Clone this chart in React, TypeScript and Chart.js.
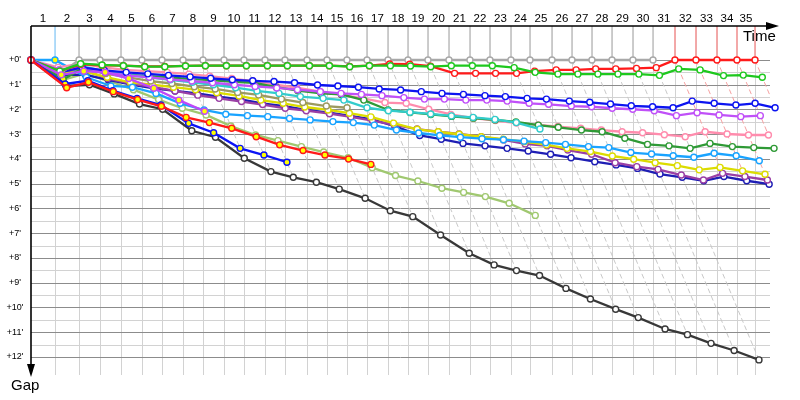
import React, { useEffect, useRef } from 'react';
import { Chart, registerables } from 'chart.js';
Chart.register(...registerables);

// Lap numbers shown on the top (time) axis
const lapLabels = ['1','2','3','4','5','6','7','8','9','10','11','12','13','14','15','16','17','18','19','20','21','22','23','24','25','26','27','28','29','30','31','32','33','34','35'];
// Leader's cumulative race time at the end of each lap (minutes), index 0 = start
const leaderLapTimes = [0, 2.31, 4.62, 6.63, 8.65, 10.67, 12.6, 14.62, 16.54, 18.56, 20.48, 22.5, 24.42, 26.54, 28.46, 30.38, 32.31, 34.33, 36.25, 38.17, 40.19, 42.21, 44.13, 46.15, 47.98, 50.1, 52.02, 53.94, 55.87, 57.88, 59.81, 61.92, 63.94, 65.96, 67.88, 69.62];
// Gap axis labels (minutes)
const gapTicks = [0,1,2,3,4,5,6,7,8,9,10,11,12];

// Gap to leader (minutes) at the end of each lap, index 0 = start
const gapGray = [0, 0.54, 0,0,0,0,0,0,0,0,0,0,0,0,0,0,0,0,0,0,0,0,0,0,0,0,0,0,0,0,0];
const gapLightBlue = [0, 0, 0.7, 1.05, 1.1, 1.35, 1.75, 2.02, 2.19, 2.25, 2.29, 2.36, 2.42, 2.49, 2.53, 2.63, 2.83, 2.95, 3.05, 3.12, 3.18, 3.22, 3.28, 3.34, 3.41, 3.5, 3.54, 3.74, 3.8, 3.87, 3.93, 3.77, 3.87, 4.07];
const gapGreen = [0, 0.45, 0.15, 0.2, 0.23, 0.27, 0.27, 0.24, 0.23, 0.23, 0.23, 0.23, 0.23, 0.23, 0.23, 0.27, 0.23, 0.23, 0.24, 0.27, 0.23, 0.23, 0.23, 0.31, 0.5, 0.57, 0.57, 0.57, 0.57, 0.57, 0.62, 0.36, 0.4, 0.63, 0.61, 0.7];
const gapRed = [0, 0.45, 0.18, 0.22, 0.23, 0.26, 0.26, 0.24, 0.23, 0.23, 0.23, 0.23, 0.23, 0.23, 0.23, 0.26, 0.23, 0.16, 0.17, 0.25, 0.54, 0.54, 0.54, 0.54, 0.45, 0.4, 0.4, 0.36, 0.36, 0.34, 0.31, 0, 0, 0, 0, 0];
const gapBlue = [0, 0.5, 0.3, 0.42, 0.5, 0.56, 0.62, 0.68, 0.74, 0.8, 0.84, 0.87, 0.92, 1.01, 1.05, 1.1, 1.17, 1.21, 1.28, 1.35, 1.39, 1.44, 1.48, 1.55, 1.58, 1.66, 1.71, 1.78, 1.85, 1.89, 1.93, 1.66, 1.75, 1.82, 1.75, 1.93];
const gapViolet = [0, 0.4, 0.3, 0.5, 0.62, 0.7, 0.78, 0.85, 0.92, 1.0, 1.07, 1.13, 1.2, 1.28, 1.35, 1.39, 1.44, 1.52, 1.58, 1.58, 1.62, 1.62, 1.66, 1.75, 1.79, 1.86, 1.89, 1.95, 1.99, 2.05, 2.25, 2.13, 2.22, 2.29, 2.25];
const gapPink = [0, 0.3, 0.15, 0.3, 0.4, 0.45, 0.5, 0.57, 0.65, 0.75, 0.85, 1.0, 1.12, 1.28, 1.41, 1.55, 1.72, 1.75, 1.99, 2.2, 2.35, 2.45, 2.55, 2.62, 2.69, 2.76, 2.83, 2.9, 2.94, 3.02, 3.1, 2.9, 2.99, 3.03, 3.03];
const gapDarkGreen = [0, 0.78, 0.34, 0.5, 0.6, 0.65, 0.7, 0.77, 0.81, 0.88, 0.92, 1.1, 1.24, 1.35, 1.39, 1.62, 2.02, 2.12, 2.2, 2.28, 2.35, 2.42, 2.5, 2.63, 2.72, 2.83, 2.9, 3.16, 3.41, 3.47, 3.57, 3.37, 3.5, 3.54, 3.57];
const gapTeal = [0, 0.4, 0.25, 0.45, 0.6, 0.7, 0.8, 0.9, 1.0, 1.12, 1.25, 1.35, 1.48, 1.55, 1.62, 1.93, 2.05, 2.11, 2.18, 2.26, 2.32, 2.4, 2.53, 2.79];
const gapOlive = [0, 0.45, 0.35, 0.55, 0.7, 0.85, 0.95, 1.08, 1.17, 1.31, 1.41, 1.58, 1.72, 1.86, 1.93];
const gapYellow = [0, 0.55, 0.45, 0.7, 0.9, 1.0, 1.1, 1.2, 1.32, 1.45, 1.62, 1.75, 1.9, 2.02, 2.15, 2.3, 2.55, 2.8, 2.9, 3.0, 3.1, 3.2, 3.3, 3.43, 3.57, 3.7, 3.88, 4.01, 4.15, 4.27, 4.44, 4.34, 4.48, 4.62];
const gapPurple = [0, 0.5, 0.4, 0.75, 0.95, 1.1, 1.25, 1.42, 1.55, 1.68, 1.8, 1.95, 2.05, 2.17, 2.3, 2.45, 2.62, 2.79, 2.9, 2.99, 3.1, 3.23, 3.39, 3.47, 3.64, 3.81, 4.15, 4.31, 4.42, 4.65, 4.85, 4.58, 4.71, 4.85];
const gapNavy = [0, 0.6, 0.6, 0.8, 1.0, 1.15, 1.25, 1.35, 1.48, 1.59, 1.75, 1.86, 2.02, 2.13, 2.26, 2.4, 2.67, 3.05, 3.2, 3.37, 3.47, 3.57, 3.68, 3.81, 3.95, 4.11, 4.24, 4.38, 4.61, 4.74, 4.88, 4.71, 4.88, 5.02];
const gapLightGreen = [0, 0.8, 0.55, 0.85, 1.2, 1.6, 1.95, 2.22, 2.67, 3.03, 3.26, 3.5, 3.72, 3.95, 4.35, 4.67, 4.89, 5.18, 5.35, 5.52, 5.79, 6.28];
const gapBlack = [0, 1.05, 1.0, 1.37, 1.78, 1.99, 2.86, 3.12, 3.97, 4.51, 4.74, 4.94, 5.22, 5.59, 6.09, 6.33, 7.07, 7.81, 8.28, 8.51, 8.71, 9.23, 9.66, 10.07, 10.41, 10.87, 11.1, 11.45, 11.74, 12.12];
const gapRedY = [0, 1.12, 0.9, 1.28, 1.6, 1.87, 2.32, 2.53, 2.76, 3.1, 3.43, 3.66, 3.84, 4.0, 4.22];
const gapBlueY = [0, 0.97, 0.84, 1.24, 1.55, 1.82, 2.56, 2.94, 3.57, 3.84, 4.13];
const gapVioletY = [0, 0.6, 0.45, 0.5, 0.75, 1.14, 1.62, 2.07];

type Series = { gaps: number[]; color: string; yellowFrom?: number; yellowTo?: number; lapLine?: string };

// first = drawn on top
const series: Series[] = [
  { gaps: gapRedY, color: '#ff1a1a', yellowFrom: 1, yellowTo: 99 },
  { gaps: gapBlueY, color: '#0c14f5', yellowFrom: 1, yellowTo: 99 },
  { gaps: gapVioletY, color: '#c048f8', yellowFrom: 1, yellowTo: 99 },
  { gaps: gapGreen, color: '#1ec81e' },
  { gaps: gapRed, color: '#ff1a1a', lapLine: '#f5a0a0' },
  { gaps: gapGray, color: '#a8a8a8', lapLine: '#c8c8c8' },
  { gaps: gapBlue, color: '#0c14f0' },
  { gaps: gapViolet, color: '#c050f8' },
  { gaps: gapTeal, color: '#33cccc' },
  { gaps: gapDarkGreen, color: '#2f9a36', yellowFrom: 1, yellowTo: 10 },
  { gaps: gapPink, color: '#ff8cad' },
  { gaps: gapOlive, color: '#9c9a60' },
  { gaps: gapLightBlue, color: '#19a3ff', yellowFrom: 1, yellowTo: 1, lapLine: '#a8d8fa' },
  { gaps: gapYellow, color: '#dcdc00' },
  { gaps: gapPurple, color: '#9a3fa5' },
  { gaps: gapNavy, color: '#1e1eb4' },
  { gaps: gapLightGreen, color: '#a0c870' },
  { gaps: gapBlack, color: '#383838' },
];

const X_MAX = 71.06;
const Y_MIN = -1.374;
const Y_MAX = 12.73;
const FONT = '"Liberation Sans", Arial, sans-serif';

export default function App() {
  const ref = useRef<HTMLCanvasElement | null>(null);
  useEffect(() => {
    const canvas = ref.current;
    if (!canvas) return;

    const carDatasets = series.map((s) => ({
      type: 'line' as const,
      data: s.gaps.map((g, k) => ({ x: leaderLapTimes[k] + g, y: g })),
      borderColor: s.color,
      borderWidth: 2.3,
      pointRadius: 3,
      pointBorderWidth: 1.4,
      pointBorderColor: s.color,
      pointBackgroundColor: s.gaps.map((_, k) =>
        s.yellowFrom !== undefined && k >= s.yellowFrom && k <= (s.yellowTo ?? 99) ? '#ffff00' : '#ffffff'),
      tension: 0,
      clip: false as any,
      order: 1,
    }));

    // lap lines: from the leader at each lap to the last car on that lap
    const lapDatasets: any[] = [];
    for (let k = 1; k < leaderLapTimes.length; k++) {
      let maxG = 0;
      let leaderColor = '#c8c8c8';
      let best = Infinity;
      series.forEach((s) => {
        if (k < s.gaps.length) {
          maxG = Math.max(maxG, s.gaps[k]);
          if (s.lapLine && s.gaps[k] < best) { best = s.gaps[k]; leaderColor = s.lapLine; }
        }
      });
      const t = leaderLapTimes[k];
      lapDatasets.push({
        type: 'line',
        data: [{ x: t, y: Y_MIN }, { x: t, y: 0 }, { x: t + maxG, y: maxG }],
        borderColor: leaderColor,
        borderWidth: 1,
        pointRadius: 0,
        tension: 0,
        order: 10,
        segment: { borderDash: (ctx: any) => (ctx.p0DataIndex === 0 ? [] : [5, 3]) },
      });
    }

    const gridPlugin = {
      id: 'gapGrid',
      beforeDatasetsDraw(chart: any) {
        const { ctx, chartArea: a, scales } = chart;
        const xs = scales.x, ys = scales.y;
        ctx.save();
        ctx.lineWidth = 1;
        ctx.strokeStyle = '#d2d2d2';
        for (let k = 1; k < leaderLapTimes.length; k++) {
          const px = Math.round(xs.getPixelForValue(leaderLapTimes[k])) + 0.5;
          ctx.beginPath(); ctx.moveTo(px, a.top); ctx.lineTo(px, a.bottom); ctx.stroke();
        }
        for (let v = 0; v <= 12; v += 0.5) {
          const py = Math.round(ys.getPixelForValue(v)) + 0.5;
          ctx.strokeStyle = v % 1 === 0 ? '#8c8c8c' : '#d2d2d2';
          ctx.beginPath(); ctx.moveTo(a.left, py); ctx.lineTo(a.right, py); ctx.stroke();
        }
        ctx.restore();
      },
      afterDraw(chart: any) {
        const { ctx, chartArea: a, scales } = chart;
        const xs = scales.x, ys = scales.y;
        ctx.save();
        ctx.fillStyle = '#000';
        ctx.strokeStyle = '#000';
        ctx.lineWidth = 1.6;
        // top time axis with arrow
        ctx.beginPath(); ctx.moveTo(a.left, a.top); ctx.lineTo(a.right + 2, a.top); ctx.stroke();
        ctx.beginPath(); ctx.moveTo(a.right - 4, a.top - 4); ctx.lineTo(a.right + 9, a.top); ctx.lineTo(a.right - 4, a.top + 4); ctx.closePath(); ctx.fill();
        // left gap axis with arrow
        ctx.beginPath(); ctx.moveTo(a.left, a.top); ctx.lineTo(a.left, a.bottom - 8); ctx.stroke();
        ctx.beginPath(); ctx.moveTo(a.left - 4, a.bottom - 11); ctx.lineTo(a.left, a.bottom + 2); ctx.lineTo(a.left + 4, a.bottom - 11); ctx.closePath(); ctx.fill();
        // lap labels
        ctx.font = `11.5px ${FONT}`;
        ctx.textAlign = 'center';
        ctx.textBaseline = 'alphabetic';
        lapLabels.forEach((lab, i) => {
          const p0 = xs.getPixelForValue(leaderLapTimes[i]);
          const p1 = xs.getPixelForValue(leaderLapTimes[i + 1]);
          ctx.fillText(lab, (p0 + p1) / 2, 22);
        });
        // gap labels
        ctx.font = `9px ${FONT}`;
        ctx.textBaseline = 'middle';
        gapTicks.forEach((v) => {
          ctx.fillText(`+${v}'`, 15, ys.getPixelForValue(v));
        });
        ctx.font = `15px ${FONT}`;
        ctx.textAlign = 'left';
        ctx.textBaseline = 'alphabetic';
        ctx.fillText('Time', 743, 41);
        ctx.fillText('Gap', 11, 390);
        ctx.restore();
      },
    };

    const chart = new Chart(canvas, {
      type: 'line',
      data: { datasets: [...carDatasets, ...lapDatasets] as any },
      options: {
        animation: false,
        responsive: false,
        events: [],
        layout: { padding: { left: 31, top: 26, right: 30, bottom: 25 } },
        plugins: { legend: { display: false }, tooltip: { enabled: false } },
        scales: {
          x: { type: 'linear', min: 0, max: X_MAX, display: false },
          y: { type: 'linear', min: Y_MIN, max: Y_MAX, reverse: true, display: false },
        },
      },
      plugins: [gridPlugin],
    });
    return () => chart.destroy();
  }, []);

  return (
    <div style={{ position: 'fixed', left: 0, top: 0, width: 800, height: 400, background: '#fff' }}>
      <canvas ref={ref} width={800} height={400} style={{ width: 800, height: 400 }} />
    </div>
  );
}
